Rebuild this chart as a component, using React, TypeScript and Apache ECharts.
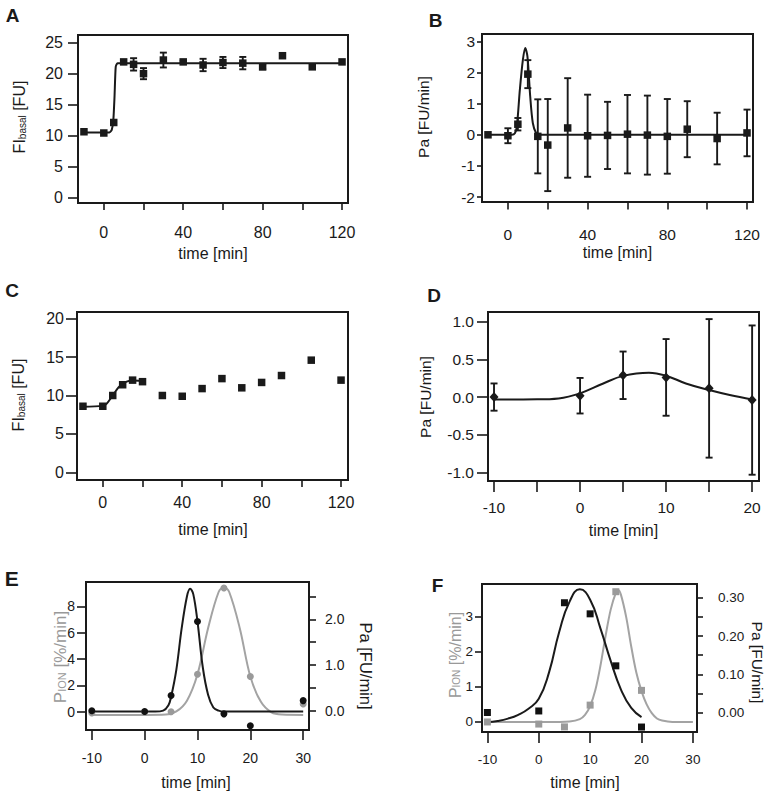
import React, { useEffect, useRef } from 'react';
import * as echarts from 'echarts';

// ---------- data ----------
const timeLong = [-10, 0, 5, 10, 15, 20, 30, 40, 50, 60, 70, 80, 90, 105, 120];
const timeShort = [-10, 0, 5, 10, 15, 20];
const timeE = [-10, 0, 5, 10, 15, 20, 30];

// Panel A
const fiA = [10.6, 10.4, 12.1, 21.9, 21.5, 20.0, 22.2, 21.9, 21.4, 21.8, 21.7, 21.1, 22.9, 21.1, 21.9];
const fiAErr = [0, 0, 0, 0, 1.0, 0.9, 1.2, 0.2, 1.0, 0.9, 1.0, 0.4, 0, 0, 0];
const fitAX = [-10, 2.8, 4.0, 4.8, 5.4, 6.0, 6.9, 8, 120];
const fitAY = [10.5, 10.5, 10.9, 12.5, 16.3, 21.1, 21.7, 21.7, 21.7];

// Panel B
const paB = [0.0, -0.03, 0.34, 1.95, -0.05, -0.33, 0.22, -0.03, -0.02, 0.02, -0.01, -0.05, 0.18, -0.12, 0.06];
const paBErr = [0, 0.24, 0.2, 0.45, 1.19, 1.48, 1.6, 1.32, 1.08, 1.26, 1.27, 1.2, 0.9, 0.83, 0.75];
const fitBX = [-10, 2, 3.5, 4.5, 6, 7.5, 8.7, 9.8, 11.2, 12.5, 14.2, 16, 120];
const fitBY = [0, 0, 0.05, 0.27, 1.45, 2.4, 2.79, 2.52, 1.23, 0.38, 0.05, 0, 0];

// Panel C
const fiC = [8.6, 8.6, 10.0, 11.4, 12.0, 11.8, 10.0, 9.9, 10.9, 12.2, 11.0, 11.7, 12.6, 14.6, 12.0];
const fitCX = [-10, 0, 2, 5, 8, 10, 12, 15, 20];
const fitCY = [8.55, 8.65, 8.95, 10.0, 11.1, 11.5, 11.8, 11.95, 11.9];

// Panel D
const paD = [0.0, 0.018, 0.288, 0.26, 0.115, -0.04];
const paDErr = [0.18, 0.235, 0.314, 0.507, 0.916, 0.987];
const fitDX = [-10, -5, -2.5, 0, 2.7, 5, 8, 10, 12.3, 15, 17.4, 20];
const fitDY = [-0.031, -0.03, -0.018, 0.049, 0.18, 0.28, 0.323, 0.283, 0.18, 0.093, 0.027, -0.031];

// Panel E
const pionE = [-0.1, 0.0, 0.0, 2.85, 9.4, 2.67, 0.59];
const paE = [0.0, -0.02, 0.33, 1.95, -0.07, -0.33, 0.22];
const fitEGrayX = [-10, 0, 4, 6, 8, 10, 12, 14, 15, 16, 18, 20, 22, 24, 26, 30];
const fitEGrayY = [-0.25, -0.25, -0.22, 0.02, 0.84, 2.85, 6.35, 9.1, 9.45, 9.1, 6.35, 2.67, 0.75, -0.05, -0.22, -0.25];
const fitEBlackX = [-10, 0, 2, 3.5, 4.5, 5, 6, 7, 8, 8.6, 9.2, 10, 11, 12, 13, 14, 15, 20, 30];
const fitEBlackY = [-0.02, -0.02, -0.02, 0.0, 0.12, 0.3, 0.9, 1.8, 2.5, 2.67, 2.55, 1.95, 0.95, 0.35, 0.07, 0.0, -0.02, -0.02, -0.02];

// Panel F
const pionF = [0.0, -0.06, -0.14, 0.48, 3.71, 0.9];
const paF = [0.0, 0.004, 0.287, 0.258, 0.122, -0.038];
const fitFGrayX = [-10, 0, 4, 6, 8, 9, 10, 11, 12, 13, 14, 15, 15.5, 16, 17, 18, 19, 20, 21, 22, 23, 24, 26, 30];
const fitFGrayY = [0, 0, 0, 0.01, 0.08, 0.2, 0.45, 0.9, 1.6, 2.45, 3.2, 3.68, 3.75, 3.62, 3.0, 2.15, 1.4, 0.88, 0.5, 0.25, 0.1, 0.04, 0, 0];
const fitFBlackX = [-10, -8, -6, -4, -2, 0, 2, 4, 6, 8, 10, 12, 14, 16, 18, 20];
const fitFBlackY = [-0.025, -0.022, -0.016, -0.006, 0.01, 0.036, 0.105, 0.212, 0.29, 0.322, 0.295, 0.22, 0.135, 0.06, 0.012, -0.012];

// tick lists
const ticksLong = [0, 20, 40, 60, 80, 100, 120];
const labelsLong = [0, 40, 80, 120];
const ticksFI = [0, 5, 10, 15, 20, 25];
const ticksFIC = [0, 5, 10, 15, 20];
const ticksPaB = [-2, -1, 0, 1, 2, 3];
const ticksDX = [-10, -5, 0, 5, 10, 15, 20];
const labelsDX = [-10, 0, 10, 20];
const ticksDY = [-1, -0.5, 0, 0.5, 1];
const ticksEF_X = [-10, 0, 10, 20, 30];
const ticksEL = [0, 2, 4, 6, 8];
const ticksER = [0, 0.5, 1, 1.5, 2, 2.5];
const labelsER = [0, 1, 2];
const ticksFL = [0, 1, 2, 3];
const ticksFR = [0, 0.05, 0.1, 0.15, 0.2, 0.25, 0.3];
const labelsFR = [0, 0.1, 0.2, 0.3];

const FONT = '"Liberation Sans", Arial, sans-serif';
const INK = '#1a1a1a';
const GRAY = '#a3a3a3';

const pairs = (xs: number[], ys: number[]) => xs.map((x, i) => [x, ys[i]]);

function axis(o: any) {
  return {
    type: 'value',
    gridIndex: o.grid,
    position: o.position,
    min: o.min,
    max: o.max,
    axisLine: { show: false, onZero: false },
    splitLine: { show: false },
    axisTick: {
      show: true,
      inside: false,
      length: o.tickLen,
      customValues: o.ticks,
      lineStyle: { color: INK, width: 1.6 },
    },
    axisLabel: {
      show: true,
      customValues: o.labels || o.ticks,
      margin: o.margin,
      fontSize: o.fontSize,
      fontFamily: FONT,
      color: INK,
      formatter: o.fmt || ((v: number) => String(v)),
    },
  };
}

function lineSeries(xi: number, yi: number, xs: number[], ys: number[], color: string, smooth: number) {
  return {
    type: 'line',
    xAxisIndex: xi,
    yAxisIndex: yi,
    data: pairs(xs, ys),
    showSymbol: false,
    symbol: 'none',
    smooth,
    lineStyle: { color, width: 2 },
    z: 2,
    silent: true,
  };
}

function scatterSeries(xi: number, yi: number, xs: number[], ys: number[], color: string, symbol: string, size: any) {
  return {
    type: 'scatter',
    xAxisIndex: xi,
    yAxisIndex: yi,
    data: pairs(xs, ys),
    symbol,
    symbolSize: size,
    itemStyle: { color, opacity: 1 },
    z: 4,
    silent: true,
  };
}

function errSeries(xi: number, yi: number, xs: number[], ys: number[], es: number[], color: string) {
  return {
    type: 'custom',
    xAxisIndex: xi,
    yAxisIndex: yi,
    data: xs.map((x, i) => [x, ys[i], es[i]]),
    encode: { x: 0, y: 1 },
    z: 3,
    silent: true,
    renderItem: (params: any, api: any) => {
      const x = api.value(0);
      const y = api.value(1);
      const e = api.value(2);
      if (!e) return { type: 'group', children: [] };
      const p1 = api.coord([x, y + e]);
      const p2 = api.coord([x, y - e]);
      const hw = 3.5;
      const st = { stroke: color, lineWidth: 1.9 };
      return {
        type: 'group',
        children: [
          { type: 'line', shape: { x1: p1[0], y1: p1[1], x2: p2[0], y2: p2[1] }, style: st },
          { type: 'line', shape: { x1: p1[0] - hw, y1: p1[1], x2: p1[0] + hw, y2: p1[1] }, style: st },
          { type: 'line', shape: { x1: p2[0] - hw, y1: p2[1], x2: p2[0] + hw, y2: p2[1] }, style: st },
        ],
      };
    },
  };
}

function txt(x: number, y: number, text: string, opts: any = {}) {
  return {
    type: 'text',
    x,
    y,
    rotation: opts.rotation || 0,
    silent: true,
    style: {
      text,
      fill: opts.color || INK,
      fontSize: opts.fontSize || 16,
      fontFamily: FONT,
      fontWeight: opts.bold ? 'bold' : 'normal',
      align: 'center',
      verticalAlign: 'middle',
      textAlign: 'center',
      textVerticalAlign: 'middle',
      rich: opts.rich,
    },
  };
}

const subRich = (color: string, size: number, drop: number) => ({
  m: { fontSize: size, fontFamily: FONT, fill: color, color },
  s: { fontSize: Math.round(size * 0.64), fontFamily: FONT, fill: color, color, padding: [drop, 0, 0, 0] },
});

export default function App() {
  const ref = useRef<HTMLDivElement>(null);
  useEffect(() => {
    if (!ref.current) return;
    const chart = echarts.init(ref.current, null, { renderer: 'svg' });
    const gridBase = {
      show: true,
      borderColor: INK,
      borderWidth: 2,
      backgroundColor: 'transparent',
      containLabel: false,
      outerBoundsMode: 'none',
    };
    const grids = [
      { left: 78, top: 35, width: 270, height: 168 },
      { left: 482, top: 34, width: 271, height: 168 },
      { left: 77, top: 312, width: 271, height: 168 },
      { left: 488, top: 312, width: 271, height: 169 },
      { left: 86, top: 582, width: 223, height: 148 },
      { left: 482, top: 584, width: 215, height: 148 },
    ].map((g) => ({ ...gridBase, ...g }));

    const xAxes = [
      axis({ grid: 0, min: -13, max: 123, ticks: ticksLong, labels: labelsLong, tickLen: 7, margin: 21, fontSize: 16 }),
      axis({ grid: 1, min: -13, max: 123, ticks: ticksLong, labels: labelsLong, tickLen: 7.5, margin: 24, fontSize: 15.5 }),
      axis({ grid: 2, min: -13, max: 123.5, ticks: ticksLong, labels: labelsLong, tickLen: 7, margin: 14, fontSize: 16 }),
      axis({ grid: 3, min: -10.7, max: 20.8, ticks: ticksDX, labels: labelsDX, tickLen: 11, margin: 18, fontSize: 15.5 }),
      axis({ grid: 4, min: -11.1, max: 31.1, ticks: ticksEF_X, tickLen: 10, margin: 21, fontSize: 14 }),
      axis({ grid: 5, min: -11.05, max: 30.8, ticks: ticksEF_X, tickLen: 11, margin: 20, fontSize: 13.5 }),
    ];
    const yAxes = [
      axis({ grid: 0, position: 'left', min: -0.92, max: 26.25, ticks: ticksFI, tickLen: 10, margin: 15, fontSize: 16 }),
      axis({ grid: 1, position: 'left', min: -2.16, max: 3.24, ticks: ticksPaB, tickLen: 5, margin: 7, fontSize: 15.5 }),
      axis({ grid: 2, position: 'left', min: -1.0, max: 20.87, ticks: ticksFIC, tickLen: 11, margin: 13, fontSize: 16 }),
      axis({ grid: 3, position: 'left', min: -1.11, max: 1.125, ticks: ticksDY, tickLen: 11, margin: 14, fontSize: 15.5, fmt: (v: number) => v.toFixed(1) }),
      axis({ grid: 4, position: 'left', min: -1.39, max: 9.86, ticks: ticksEL, tickLen: 9, margin: 11, fontSize: 14 }),
      axis({ grid: 4, position: 'right', min: -0.423, max: 2.816, ticks: ticksER, labels: labelsER, tickLen: 7, margin: 16, fontSize: 14, fmt: (v: number) => v.toFixed(1) }),
      axis({ grid: 5, position: 'left', min: -0.286, max: 3.93, ticks: ticksFL, tickLen: 7, margin: 9, fontSize: 13.5 }),
      axis({ grid: 5, position: 'right', min: -0.051, max: 0.336, ticks: ticksFR, labels: labelsFR, tickLen: 6, margin: 21, fontSize: 13.5, fmt: (v: number) => v.toFixed(2) }),
    ];

    const series: any[] = [
      // A
      lineSeries(0, 0, fitAX, fitAY, INK, 0.2),
      errSeries(0, 0, timeLong, fiA, fiAErr, INK),
      scatterSeries(0, 0, timeLong, fiA, INK, 'rect', 7.5),
      // B
      lineSeries(1, 1, fitBX, fitBY, INK, 0.3),
      errSeries(1, 1, timeLong, paB, paBErr, INK),
      scatterSeries(1, 1, timeLong, paB, INK, 'rect', 7.5),
      // C
      lineSeries(2, 2, fitCX, fitCY, INK, 0.3),
      scatterSeries(2, 2, timeLong, fiC, INK, 'rect', 7.5),
      // D
      lineSeries(3, 3, fitDX, fitDY, INK, 0.4),
      errSeries(3, 3, timeShort, paD, paDErr, INK),
      scatterSeries(3, 3, timeShort, paD, INK, 'diamond', [9, 10]),
      // E
      lineSeries(4, 4, fitEGrayX, fitEGrayY, GRAY, 0.35),
      scatterSeries(4, 4, timeE, pionE, '#9a9a9a', 'circle', 7),
      lineSeries(4, 5, fitEBlackX, fitEBlackY, INK, 0.35),
      scatterSeries(4, 5, timeE, paE, '#111111', 'circle', 7),
      // F
      lineSeries(5, 6, fitFGrayX, fitFGrayY, GRAY, 0.35),
      scatterSeries(5, 6, timeShort, pionF, '#9a9a9a', 'rect', 7),
      lineSeries(5, 7, fitFBlackX, fitFBlackY, INK, 0.5),
      scatterSeries(5, 7, timeShort, paF, '#111111', 'rect', 7),
    ];

    const fiRich = subRich(INK, 16, 6);
    const graphics: any[] = [
      // panel letters
      txt(12.5, 15, 'A', { bold: true, fontSize: 19 }),
      txt(435.5, 20, 'B', { bold: true, fontSize: 19 }),
      txt(12, 290, 'C', { bold: true, fontSize: 19 }),
      txt(434, 295, 'D', { bold: true, fontSize: 19 }),
      txt(11.7, 578, 'E', { bold: true, fontSize: 21 }),
      txt(437.5, 585, 'F', { bold: true, fontSize: 19 }),
      // x titles
      txt(213, 253, 'time [min]', { fontSize: 16 }),
      txt(617.5, 252, 'time [min]', { fontSize: 16 }),
      txt(213, 529, 'time [min]', { fontSize: 16 }),
      txt(623.5, 530, 'time [min]', { fontSize: 16 }),
      txt(196, 782, 'time [min]', { fontSize: 16 }),
      txt(585, 782, 'time [min]', { fontSize: 16 }),
      // y titles
      txt(19, 117, '{m|FI}{s|basal}{m| [FU]}', { rotation: Math.PI / 2, rich: fiRich }),
      txt(423.5, 117, 'Pa [FU/min]', { rotation: Math.PI / 2, fontSize: 15.5 }),
      txt(18.5, 395, '{m|FI}{s|basal}{m| [FU]}', { rotation: Math.PI / 2, rich: fiRich }),
      txt(425.5, 397, 'Pa [FU/min]', { rotation: Math.PI / 2, fontSize: 15.5 }),
      txt(60, 657, '{m|P}{s|ION}{m| [%/min]}', { rotation: Math.PI / 2, rich: subRich('#999999', 17, 3), color: '#999999' }),
      txt(365.7, 666, 'Pa [FU/min]', { rotation: -Math.PI / 2, fontSize: 16.5 }),
      txt(455, 655, '{m|P}{s|ION}{m| [%/min]}', { rotation: Math.PI / 2, rich: subRich('#999999', 16, 3), color: '#999999' }),
      txt(757.5, 662.5, 'Pa [FU/min]', { rotation: -Math.PI / 2, fontSize: 15.5 }),
    ];

    chart.setOption({
      animation: false,
      backgroundColor: '#ffffff',
      grid: grids,
      xAxis: xAxes,
      yAxis: yAxes,
      series,
      graphic: { elements: graphics },
    });
    return () => chart.dispose();
  }, []);
  return (
    <div
      ref={ref}
      style={{ position: 'absolute', left: 0, top: 0, width: 767, height: 794, background: '#fff' }}
    />
  );
}
